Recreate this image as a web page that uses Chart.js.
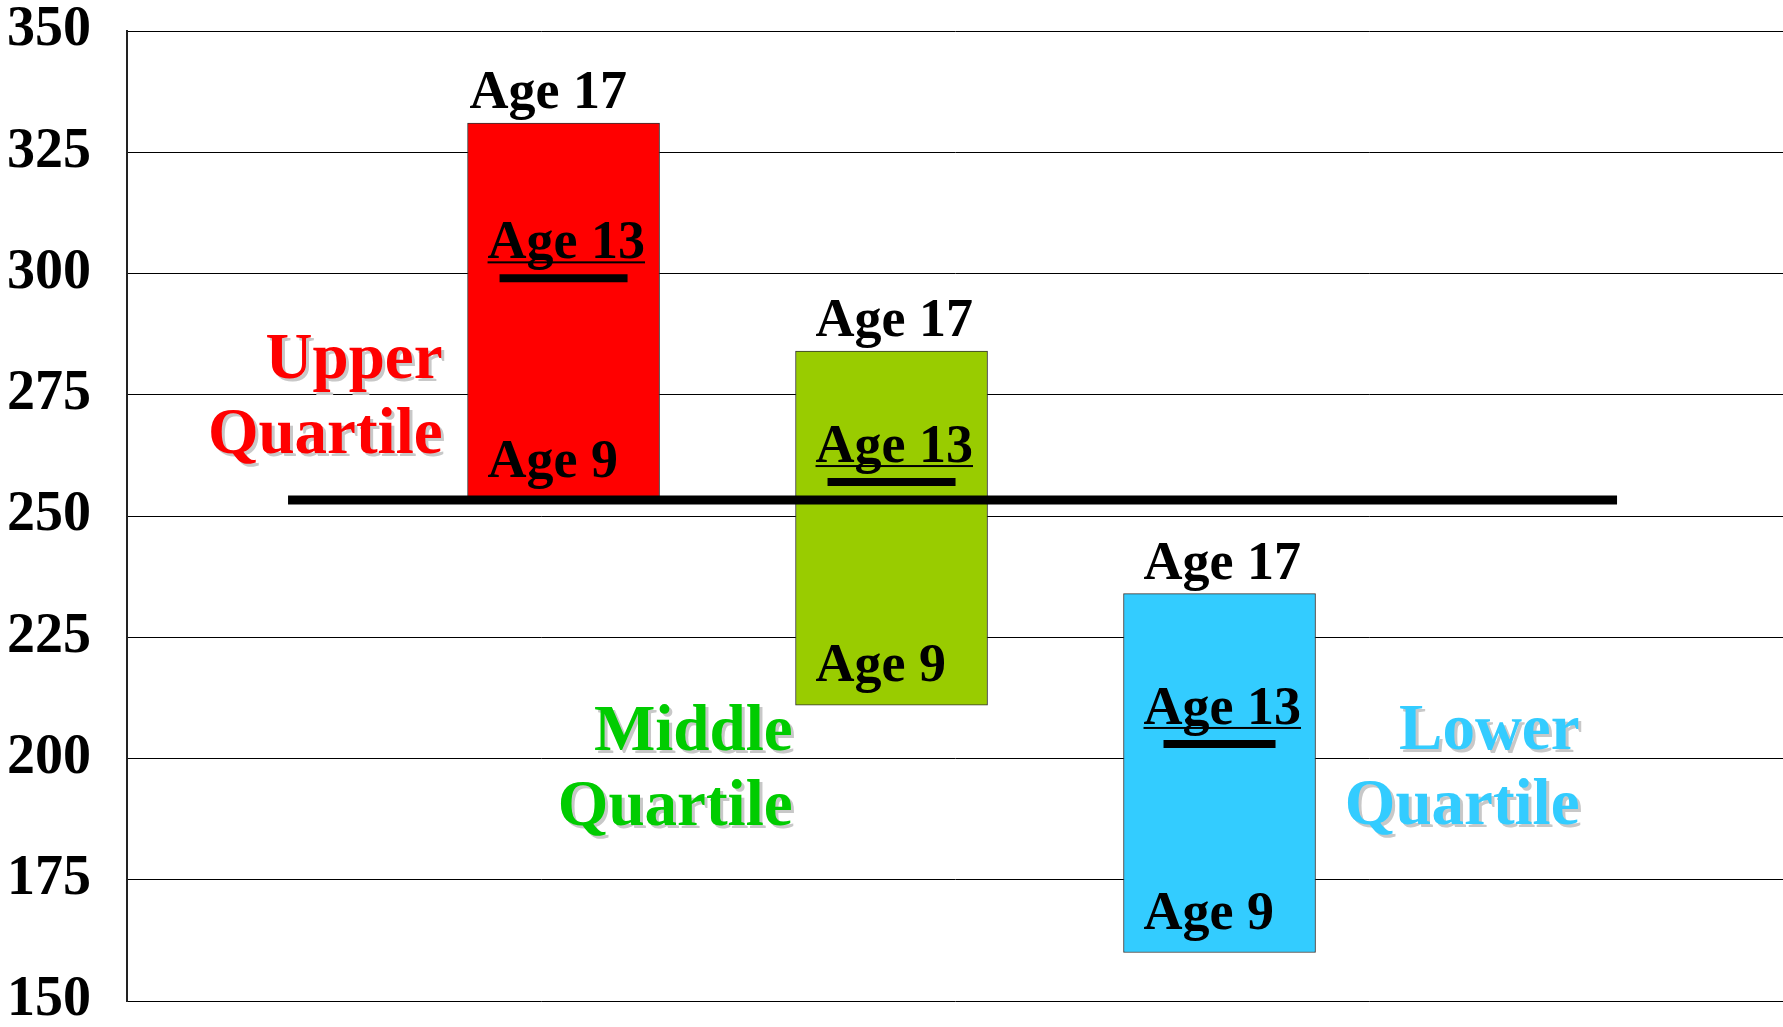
<!DOCTYPE html>
<html>
<head>
<meta charset="utf-8">
<script src="https://cdn.jsdelivr.net/npm/chart.js@4"></script>
<style>
  html, body { margin: 0; padding: 0; background: #fff; }
  #wrap { width: 1783px; height: 1027px; }
</style>
</head>
<body>
<div id="wrap"><canvas id="quartileChart"></canvas></div>
<script>
// Score ranges by quartile (bar bottom = Age 9, marker = Age 13, bar top = Age 17)
const groups = ['Upper Quartile', 'Middle Quartile', 'Lower Quartile'];
const groupIndex = [0, 1, 2];
const age9 = [253, 211, 160];
const age13 = [299, 257, 203];
const age17 = [331, 284, 234];
const referenceScore = 253.3;
const yTicks = [150, 175, 200, 225, 250, 275, 300, 325, 350];

const barColors = ['#FF0000', '#99CC00', '#33CCFF'];
const labelColors = ['#FF0000', '#00CC00', '#33CCFF'];
const FONT = '"Liberation Serif", "Times New Roman", serif';

// Text labels drawn on top of the bars
const ageLabels = {
    id: 'ageLabels',
    afterDatasetsDraw(chart) {
        const ctx = chart.ctx;
        const yScale = chart.scales.y;
        const bars = chart.getDatasetMeta(2).data;
        const age17Shift = [2, 20, 20];

        ctx.save();
        ctx.textBaseline = 'alphabetic';
        ctx.textAlign = 'left';
        ctx.fillStyle = '#000';
        ctx.font = 'bold 54px ' + FONT;

        bars.forEach(function(bar, i) {
            const left = bar.x - bar.width / 2;
            ctx.fillText('Age 17', left + age17Shift[i], bar.y - 15);

            const y13 = yScale.getPixelForValue(age13[i]) - 20;
            ctx.fillText('Age 13', left + 20, y13);
            const w = ctx.measureText('Age 13').width;
            ctx.fillRect(left + 20, y13 + 3, w, 2);

            ctx.fillText('Age 9', left + 20, bar.base - 24);
        });

        // Quartile names, two lines each, with a soft shadow
        ctx.font = 'bold 65px ' + FONT;
        ctx.textAlign = 'right';
        const anchors = [
            { right: bars[0].x - bars[0].width / 2 - 25, base: 263 },
            { right: bars[1].x - bars[1].width / 2 - 3, base: 186.3 },
            { right: bars[2].x + bars[2].width / 2 + 264, base: 186.5 }
        ];
        groups.forEach(function(name, i) {
            const parts = name.split(' ');
            const y2 = yScale.getPixelForValue(anchors[i].base);
            const lines = [[parts[0], y2 - 75], [parts[1], y2]];
            lines.forEach(function(l) {
                ctx.fillStyle = '#C8C8C8';
                ctx.fillText(l[0], anchors[i].right + 3, l[1] + 3);
                ctx.fillStyle = labelColors[i];
                ctx.fillText(l[0], anchors[i].right, l[1]);
            });
        });
        ctx.restore();
    }
};

const ctx = document.getElementById('quartileChart');
new Chart(ctx.getContext('2d'), {
    type: 'bar',
    data: {
        datasets: [
            {
                // Age 13 markers
                type: 'line',
                data: groupIndex.map((x, i) => ({ x: x, y: age13[i] })),
                showLine: false,
                pointStyle: 'line',
                pointRadius: [64, 64, 56],
                pointBorderWidth: 8,
                pointBorderColor: '#000',
                borderColor: '#000',
                order: 0
            },
            {
                // reference line across the chart
                type: 'line',
                data: [{ x: -0.84, y: referenceScore }, { x: 3.212, y: referenceScore }],
                borderColor: '#000',
                borderWidth: 9,
                pointRadius: 0,
                order: 1
            },
            {
                data: groupIndex.map((x, i) => ({ x: x, y: [age9[i], age17[i]] })),
                backgroundColor: barColors,
                borderColor: '#333',
                borderWidth: 1,
                borderSkipped: false,
                barThickness: 192,
                order: 3
            }
        ]
    },
    options: {
        responsive: true,
        maintainAspectRatio: false,
        animation: false,
        layout: {
            autoPadding: false,
            padding: { top: 31, right: 0, bottom: 26, left: 0 }
        },
        plugins: {
            legend: { display: false },
            tooltip: { enabled: false }
        },
        scales: {
            x: {
                type: 'linear',
                min: -1.331,
                max: 3.718,
                offset: false,
                display: false
            },
            y: {
                min: 150,
                max: 350,
                afterBuildTicks: function(scale) {
                    scale.ticks = yTicks.map(v => ({ value: v }));
                },
                afterFit: function(scale) {
                    scale.width = 127;
                    scale.paddingTop = 0;
                    scale.paddingBottom = 0;
                },
                ticks: {
                    color: '#000',
                    padding: 36,
                    font: { family: FONT, size: 56, weight: 'bold', lineHeight: 0.9 }
                },
                grid: {
                    color: '#000',
                    lineWidth: 1,
                    drawTicks: false
                },
                border: {
                    color: '#222',
                    width: 2
                }
            }
        }
    },
    plugins: [ageLabels]
});
</script>
</body>
</html>
